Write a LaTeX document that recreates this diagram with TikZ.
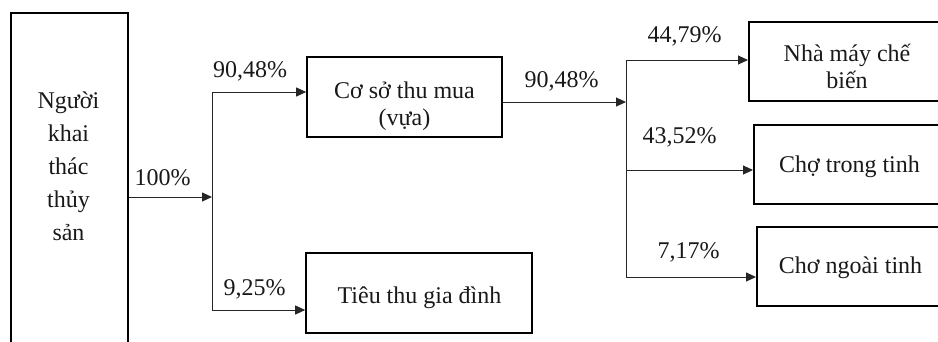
\documentclass[tikz,border=0pt]{standalone}
\usepackage{fontspec}
\setmainfont{Liberation Serif}
\usetikzlibrary{arrows.meta}
\begin{document}
\begin{tikzpicture}[x=1pt,y=-1pt,
  every node/.style={font=\fontsize{24}{27}\selectfont, text=black!90},
  box/.style={draw=black, line width=1.6pt, inner sep=0pt, rectangle},
  ln/.style={draw=black!85, line width=0.9pt},
  arr/.style={ln, -{Triangle[length=10pt,width=9pt]}},
  pct/.style={anchor=base, inner sep=0pt}]
\useasboundingbox (0,0) rectangle (938,341);
\clip (0,0) rectangle (938,341);
% boxes
\node[box, minimum width=117pt, minimum height=400pt, anchor=north west] (src) at (10,12) {};
\node[box, minimum width=195pt, minimum height=80pt] (buy) at (404.5,97) {};
\node[box, minimum width=226pt, minimum height=80pt] (home) at (419,293) {};
\node[box, minimum width=200pt, minimum height=79pt, anchor=north west] (fac) at (748,21) {};
\node[box, minimum width=195pt, minimum height=79pt, anchor=north west] (inprov) at (753,124) {};
\node[box, minimum width=192pt, minimum height=79pt, anchor=north west] (outprov) at (756,226) {};
% box texts
\node[align=center, font=\fontsize{24}{33}\selectfont, inner sep=0pt] (srct) at (68.5,166) {Người\\khai\\thác\\thủy\\sản};
\node[align=center, inner sep=0pt] (buyt) at (404.5,106) {Cơ sở thu mua\\(vựa)};
\node[pct] (homet) at (419.5,303) {Tiêu thu gia đình};
\node[align=center, inner sep=0pt] (fact) at (847,66) {Nhà máy chế\\biến};
\node[pct] (inprovt) at (849.5,172) {Chợ trong tinh};
\node[pct] (outprovt) at (850.5,273) {Chơ ngoài tinh};
% junctions
\coordinate (j1) at (212,197);
\coordinate (j1t) at (212,92);
\coordinate (j1b) at (212,310);
\coordinate (j2) at (626,102);
\coordinate (j2t) at (626,60);
\coordinate (j2m) at (626,170);
\coordinate (j2b) at (626,277);
% connectors
\draw[arr] (src.east |- j1) -- (j1);
\draw[ln] (j1t) -- (j1b);
\draw[arr] (j1t) -- (buy.west |- j1t);
\draw[arr] (j1b) -- (home.west |- j1b);
\draw[arr] (buy.east |- j2) -- (j2);
\draw[ln] (j2t) -- (j2b);
\draw[arr] (j2t) -- (fac.west |- j2t);
\draw[arr] (j2m) -- (inprov.west |- j2m);
\draw[arr] (j2b) -- (outprov.west |- j2b);
% labels
\node[pct] (p100) at (162.5,185) {100\%};
\node[pct] (p9048a) at (250,77) {90,48\%};
\node[pct] (p925) at (254.5,295) {9,25\%};
\node[pct] (p9048b) at (561.5,87) {90,48\%};
\node[pct] (p4479) at (684.5,42) {44,79\%};
\node[pct] (p4352) at (679.5,143) {43,52\%};
\node[pct] (p717) at (688.5,258) {7,17\%};
\end{tikzpicture}
\end{document}
